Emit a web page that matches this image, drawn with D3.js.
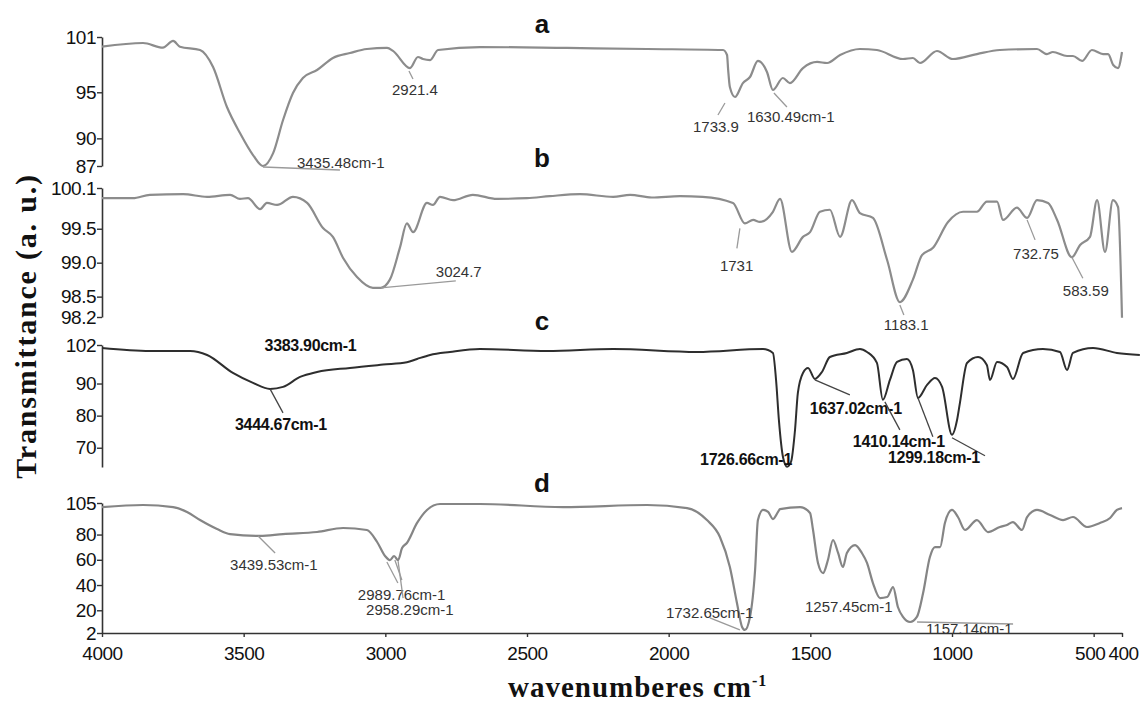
<!DOCTYPE html>
<html>
<head>
<meta charset="utf-8">
<script src="https://cdn.jsdelivr.net/npm/d3@7/dist/d3.min.js"></script>
<style>
  body { margin: 0; background: #fff; }
  svg { display: block; font-family: Arial, "Liberation Sans", sans-serif; }
</style>
</head>
<body>
<div id="container"></div>
<script>
// FTIR spectra, [wavenumber cm-1, transmittance]

const specA = [[4000,99.95],[3855,100.35],[3785,99.84],[3749,100.57],[3725,99.95],[3654,99.59],[3608,97.74],[3559,93.4],
  [3513,90.58],[3467,88.19],[3432,87.0],[3396,88.4],[3361,91.99],[3326,94.92],[3291,96.55],[3241,97.42],[3185,98.72],
  [3125,99.26],[3065,99.7],[2994,99.81],[2973,99.5],[2913,97.63],[2885,98.83],[2867,98.61],[2842,98.5],[2814,99.59],
  [2666,99.91],[2359,99.81],[2076,99.7],[1808,99.59],[1794,99.05],[1790,97.42],[1784,95.57],[1766,94.49],[1738,96.0],
  [1713,96.66],[1685,98.4],[1653,97.2],[1632,95.25],[1597,96.55],[1572,96.0],[1526,97.63],[1476,98.29],[1441,98.18],
  [1395,99.05],[1325,99.7],[1265,99.59],[1173,98.61],[1138,98.72],[1113,98.18],[1053,99.48],[997,98.61],[912,99.15],
  [831,99.59],[700,99.7],[665,99.15],[644,99.37],[594,98.94],[573,98.94],[541,98.4],[506,99.59],[467,99.15],[449,99.15],
  [431,97.96],[414,97.63],[400,99.37]];

const specB = [[4000,99.95],[3891,99.95],[3831,100.0],[3714,100.01],[3629,99.97],[3548,100.0],[3513,99.94],[3485,99.95],
  [3442,99.79],[3418,99.88],[3382,99.85],[3326,99.97],[3276,99.88],[3220,99.51],[3185,99.38],[3149,99.07],[3100,98.79],
  [3044,98.63],[3016,98.63],[2984,98.75],[2948,99.23],[2924,99.58],[2902,99.45],[2853,99.88],[2832,99.85],[2807,99.97],
  [2761,99.92],[2691,100.0],[2606,99.94],[2500,99.95],[2420,99.98],[2313,100.01],[2196,99.97],[2136,100.0],[2060,99.96],
  [1960,99.98],[1880,99.97],[1773,99.88],[1731,99.58],[1702,99.63],[1678,99.6],[1632,99.75],[1607,99.94],[1565,99.16],
  [1526,99.38],[1501,99.45],[1466,99.75],[1431,99.78],[1395,99.38],[1353,99.92],[1325,99.73],[1279,99.66],[1229,99.04],
  [1184,98.42],[1138,98.75],[1106,99.11],[1067,99.22],[1014,99.6],[961,99.75],[912,99.75],[877,99.9],[841,99.9],
  [820,99.63],[771,99.81],[735,99.66],[700,99.92],[661,99.88],[629,99.63],[577,99.08],[548,99.26],[513,99.38],
  [488,99.92],[460,99.16],[432,99.92],[414,99.82],[400,98.19]];

const specC = [[4000,101.07],[3831,100.14],[3689,100.14],[3629,98.9],[3538,93.3],[3467,90.2],[3407,88.33],[3361,88.96],
  [3301,92.06],[3241,93.6],[3125,94.86],[3008,95.9],[2924,96.6],[2888,97.65],[2842,98.9],[2772,99.83],
  [2666,100.76],[2429,100.14],[2196,100.76],[1900,99.83],[1667,100.76],[1632,99.52],[1621,91.13],[1611,78.7],[1596,66.9],
  [1582,64.1],[1568,65.67],[1554,75.6],[1544,87.1],[1526,93.3],[1508,94.86],[1484,91.44],[1459,93.6],[1431,98.27],
  [1371,99.52],[1325,100.76],[1300,99.83],[1265,96.41],[1244,84.92],[1219,91.13],[1194,96.72],[1159,97.65],[1138,94.24],
  [1120,85.54],[1088,89.58],[1060,91.75],[1035,88.96],[1000,74.05],[982,78.7],[972,83.99],[947,96.41],[908,98.27],
  [877,95.79],[866,91.13],[841,96.72],[806,95.17],[785,91.44],[749,99.52],[679,100.76],[619,99.83],[594,94.24],
  [573,99.52],[502,101.07],[418,99.52],[337,98.9]];

const specD = [[4000,101.8],[3855,103.4],[3749,101.8],[3700,97.9],[3654,91.5],[3594,84.4],[3548,80.4],[3442,78.9],
  [3361,80.4],[3241,82.0],[3149,85.2],[3065,83.6],[3029,74.1],[3001,63.0],[2984,59.8],[2969,63.0],[2955,59.8],[2941,69.3],
  [2924,73.3],[2888,89.2],[2853,99.5],[2807,104.2],[2666,104.2],[2373,101.8],[2076,103.4],[1935,101.0],[1865,91.5],
  [1819,78.1],[1784,54.3],[1759,25.8],[1741,6.8],[1731,4.4],[1713,14.7],[1695,51.9],[1685,91.5],[1667,99.5],[1649,97.9],
  [1632,92.3],[1614,97.9],[1607,100.2],[1536,101.8],[1501,97.1],[1491,84.4],[1473,57.5],[1455,49.5],[1438,59.8],
  [1420,75.7],[1402,65.4],[1385,54.3],[1371,65.4],[1342,71.7],[1318,65.4],[1300,57.5],[1279,41.6],[1254,29.7],
  [1229,30.5],[1208,38.4],[1191,22.6],[1173,14.7],[1148,10.7],[1124,14.7],[1102,33.7],[1078,62.2],[1060,70.1],
  [1042,70.1],[1025,89.2],[1000,99.5],[979,93.9],[954,83.6],[912,91.5],[873,82.0],[831,86.0],[806,87.6],[785,89.9],
  [753,83.6],[735,93.9],[700,99.5],[654,95.5],[608,91.5],[573,93.9],[524,86.0],[478,89.2],[442,93.1],[418,99.5],
  [400,101.0]];

// tick labels
const xTicks = [4000, 3500, 3000, 2500, 2000, 1500, 1000, 500, 400];
const ticksA = ["101", "95", "90", "87"];
const ticksB = ["100.1", "99.5", "99.0", "98.5", "98.2"];
const ticksC = ["102", "90", "80", "70"];
const ticksD = ["105", "80", "60", "40", "20", "2"];

// peak labels: text, wavenumber, transmittance of the marked point
const peaksA = [["3435.48cm-1", 3432, 87.0], ["2921.4", 2913, 97.63], ["1733.9", 1766, 94.49], ["1630.49cm-1", 1632, 95.25]];
const peaksB = [["3024.7", 3016, 98.63], ["1731", 1731, 99.58], ["1183.1", 1184, 98.42], ["732.75", 735, 99.66], ["583.59", 577, 99.08]];
const peaksC = [["3383.90cm-1", 3384, 102], ["3444.67cm-1", 3407, 88.33], ["1726.66cm-1", 1582, 64.1],
  ["1637.02cm-1", 1484, 91.44], ["1410.14cm-1", 1244, 84.92], ["1299.18cm-1", 1000, 74.05]];
const peaksD = [["3439.53cm-1", 3442, 78.9], ["2989.76cm-1", 2984, 59.8], ["2958.29cm-1", 2955, 59.8],
  ["1732.65cm-1", 1731, 4.4], ["1257.45cm-1", 1254, 29.7], ["1157.14cm-1", 1148, 10.7]];

// label layout: text offset from the point, leader lines (relative to the point)
const offA = [[34, -3, [[0, 1, 77, 4]]], [-18, 22, [[-1, 3, 3, 11]]], [-42, 30, [[-10, 6, -17, 18]]], [-26, 27, [[1, 3, 14, 17]]]];
const offB = [[55, -16, [[0, 0, 75, -7]]], [-25, 42, [[-5, 5, -8, 25]]], [-16, 23, [[0, 3, 4, 13]]], [-14, 36, [[0, 2, 8, 22]]], [-9, 33, [[0, 0, 11, 21]]]];
const offC = [[-12, 0, []], [-35, 36, [[0, 0, 13, 24]]], [-87, -7, []], [-5, 29, [[0, 1, 35, 16]]],
  [-30, 42, [[2, 2, 17, 30], [35, -2, 50, 37]]], [-64, 23, [[0, 3, 33, 21]]]];
const offD = [[-30, 29, [[-2, 0, 15, 17]]], [-32, 35, [[-3, 2, 8, 23], [5, 0, 12, 20]]], [-32, 50, [[0, 1, 5, 38]]],
  [-79, -17, [[-5, 0, -35, -12]]], [-75, 9, []], [16, 7, [[7, 0, 103, 2]]]];

const width = 1142;
const height = 705;

const svg = d3.select('#container').append('svg')
    .attr('width', width)
    .attr('height', height);

const xScale = d3.scaleLinear().domain([4000, 400]).range([102, 1122]);

const panels = [
  { data: specA, domain: [87, 101], range: [166, 37], ticks: ticksA, peaks: peaksA, offs: offA, letter: 'a', letterY: 33, color: '#8c8c8c', dark: false },
  { data: specB, domain: [98.2, 100.1], range: [317, 188], ticks: ticksB, peaks: peaksB, offs: offB, letter: 'b', letterY: 167, color: '#8c8c8c', dark: false },
  { data: specC, domain: [64, 102], range: [467, 345], ticks: ticksC, peaks: peaksC, offs: offC, letter: 'c', letterY: 330, color: '#2e2e2e', dark: true },
  { data: specD, domain: [2, 105], range: [633, 503], ticks: ticksD, peaks: peaksD, offs: offD, letter: 'd', letterY: 492, color: '#858585', dark: false }
];

panels.forEach(p => {
  const yScale = d3.scaleLinear().domain(p.domain).range(p.range);

  // y axis
  const yAxis = svg.append('g')
      .attr('transform', 'translate(102,0)')
      .call(d3.axisLeft(yScale)
        .tickValues(p.ticks.map(Number))
        .tickFormat((d, i) => p.ticks[i])
        .tickSize(5).tickPadding(1).tickSizeOuter(0));
  yAxis.attr('font-family', null).attr('font-size', null);
  yAxis.select('.domain').attr('stroke', '#333').attr('stroke-width', 1.6);
  yAxis.selectAll('.tick line').attr('stroke', '#333').attr('stroke-width', 1.4);
  yAxis.selectAll('.tick text').attr('fill', '#111').style('font-size', '19px').style('letter-spacing', '-0.5px');

  // spectrum
  const line = d3.line()
      .x(d => xScale(d[0]))
      .y(d => yScale(d[1]))
      .curve(d3.curveMonotoneX);
  svg.append('path')
      .datum(p.data)
      .attr('d', line)
      .attr('fill', 'none')
      .attr('stroke', p.color)
      .attr('stroke-width', p.dark ? 2 : 2.2)
      .attr('stroke-linejoin', 'round');

  // peak labels + leaders
  p.peaks.forEach((pk, i) => {
    const px = xScale(pk[1]), py = yScale(pk[2]);
    const off = p.offs[i];
    off[2].forEach(l => {
      svg.append('line')
          .attr('x1', px + l[0]).attr('y1', py + l[1])
          .attr('x2', px + l[2]).attr('y2', py + l[3])
          .attr('stroke', p.dark ? '#444' : '#9a9a9a')
          .attr('stroke-width', 1.3);
    });
    svg.append('text')
        .attr('x', px + off[0])
        .attr('y', py + off[1])
        .attr('dy', '0.35em')
        .attr('fill', p.dark ? '#111' : '#333')
        .style('font-size', p.dark ? '16px' : '15px')
        .style('font-weight', p.dark ? 'bold' : 'normal')
        .style('letter-spacing', p.dark ? '-0.3px' : '0px')
        .text(pk[0]);
  });

  // panel letter
  svg.append('text')
      .attr('x', 542)
      .attr('y', p.letterY)
      .attr('text-anchor', 'middle')
      .style('font-size', '26px')
      .style('font-weight', 'bold')
      .attr('fill', '#111')
      .text(p.letter);
});

// x axis (shared, under panel d)
const xAxis = svg.append('g')
    .attr('transform', 'translate(0,633)')
    .call(d3.axisBottom(xScale).tickValues(xTicks).tickFormat(d3.format('d'))
      .tickSize(4).tickPadding(10).tickSizeOuter(0));
xAxis.attr('font-family', null).attr('font-size', null);
xAxis.select('.domain').attr('stroke', '#333').attr('stroke-width', 1.6);
xAxis.selectAll('.tick line').attr('stroke', '#333').attr('stroke-width', 1.4);
xAxis.selectAll('.tick text').attr('fill', '#111').style('font-size', '19px').style('letter-spacing', '-0.5px')
    .attr('dx', d => d === 500 ? -4 : (d === 400 ? 1 : 0));

// axis titles
svg.append('text')
    .attr('transform', 'translate(36,326) rotate(-90)')
    .attr('text-anchor', 'middle')
    .style('font-family', '"Liberation Serif", "DejaVu Serif", serif')
    .style('font-weight', 'bold')
    .style('font-size', '30px')
    .style('letter-spacing', '1.8px')
    .attr('fill', '#111')
    .text('Transmittance (a. u.)');

const xt = svg.append('text')
    .attr('x', 508)
    .attr('y', 697)
    .style('font-family', '"Liberation Serif", "DejaVu Serif", serif')
    .style('font-weight', 'bold')
    .style('font-size', '29px')
    .style('letter-spacing', '1px')
    .attr('fill', '#111');
xt.append('tspan').text('wavenumberes cm');
xt.append('tspan').attr('dy', -11).style('font-size', '16px').text('-1');
</script>
</body>
</html>
